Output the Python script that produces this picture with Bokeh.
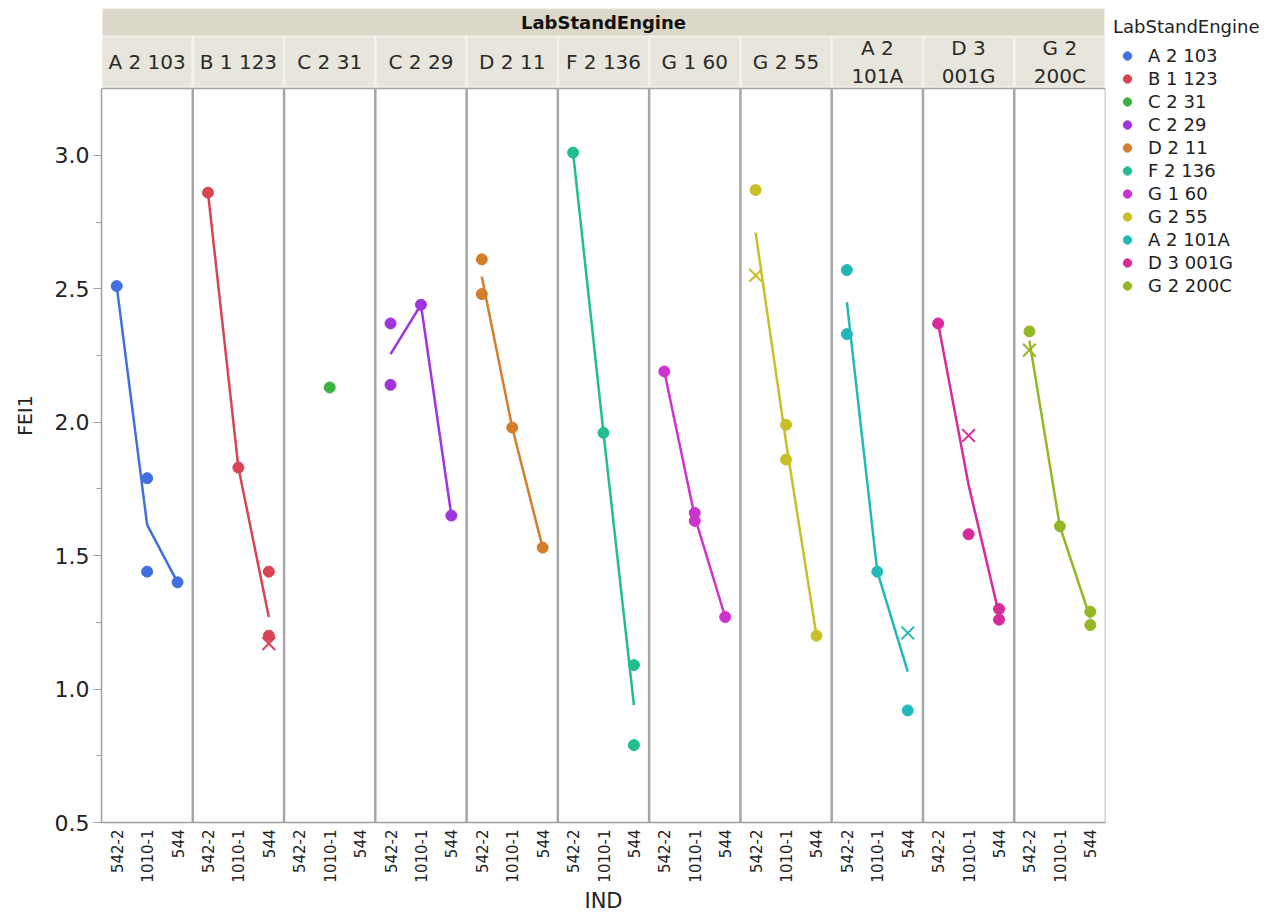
import numpy as np
import pandas as pd
from bokeh.plotting import figure
from bokeh.models import Range1d, FixedTicker, Legend, LegendItem, NumeralTickFormatter
from bokeh.embed import file_html
from bokeh.resources import INLINE
from bokeh.core.properties import value

# ---------------- data ----------------
engines = ["A 2 103", "B 1 123", "C 2 31", "C 2 29", "D 2 11", "F 2 136",
           "G 1 60", "G 2 55", "A 2 101A", "D 3 001G", "G 2 200C"]
ind_levels = ["542-2", "1010-1", "544"]

obs_engine = (["A 2 103"] * 4 + ["B 1 123"] * 5 + ["C 2 31"] * 1 + ["C 2 29"] * 4 +
              ["D 2 11"] * 4 + ["F 2 136"] * 4 + ["G 1 60"] * 4 + ["G 2 55"] * 5 +
              ["A 2 101A"] * 5 + ["D 3 001G"] * 5 + ["G 2 200C"] * 5)
obs_ind = [
    "542-2", "1010-1", "1010-1", "544",                 # A 2 103
    "542-2", "1010-1", "544", "544", "544",             # B 1 123
    "1010-1",                                           # C 2 31
    "542-2", "542-2", "1010-1", "544",                  # C 2 29
    "542-2", "542-2", "1010-1", "544",                  # D 2 11
    "542-2", "1010-1", "544", "544",                    # F 2 136
    "542-2", "1010-1", "1010-1", "544",                 # G 1 60
    "542-2", "542-2", "1010-1", "1010-1", "544",        # G 2 55
    "542-2", "542-2", "1010-1", "544", "544",           # A 2 101A
    "542-2", "1010-1", "1010-1", "544", "544",          # D 3 001G
    "542-2", "542-2", "1010-1", "544", "544",           # G 2 200C
]
obs_fei = [
    2.51, 1.79, 1.44, 1.40,
    2.86, 1.83, 1.44, 1.20, 1.17,
    2.13,
    2.37, 2.14, 2.44, 1.65,
    2.61, 2.48, 1.98, 1.53,
    3.01, 1.96, 1.09, 0.79,
    2.19, 1.66, 1.63, 1.27,
    2.87, 2.55, 1.99, 1.86, 1.20,
    2.57, 2.33, 1.44, 1.21, 0.92,
    2.37, 1.95, 1.58, 1.30, 1.26,
    2.34, 2.27, 1.61, 1.29, 1.24,
]
# rows drawn with an "x" marker
obs_xmark = [
    0, 0, 0, 0,
    0, 0, 0, 0, 1,
    0,
    0, 0, 0, 0,
    0, 0, 0, 0,
    0, 0, 0, 0,
    0, 0, 0, 0,
    0, 1, 0, 0, 0,
    0, 0, 0, 1, 0,
    0, 1, 0, 0, 0,
    0, 1, 0, 0, 0,
]

y_ticks = [0.5, 1.0, 1.5, 2.0, 2.5, 3.0]
y_minor = [0.75, 1.25, 1.75, 2.25, 2.75]

colors = ["#4170DE", "#D94452", "#3CB042", "#A034DD", "#D47D2A", "#22BD90",
          "#CE33CF", "#C9BF26", "#22B8B8", "#D72A9B", "#93B825"]

# ---------------- layout constants ----------------
FONT = "DejaVu Sans"
n = len(engines)
k = len(ind_levels)
Y_LO, Y_TOP_PLOT, Y_HDR = 0.5, 3.25, 3.55
HDR_TITLE_BOT = 3.4486
CELL_TOP, CELL_BOT = 3.441, 3.2575
GAP = 0.045

df = pd.DataFrame(dict(engine=obs_engine, ind=obs_ind, fei=obs_fei, xm=obs_xmark))
eidx = {e: i for i, e in enumerate(engines)}
lidx = {l: j for j, l in enumerate(ind_levels)}
df["ei"] = df["engine"].map(eidx)
df["li"] = df["ind"].map(lidx)
df["x"] = df["ei"] * k + df["li"]

p = figure(frame_width=1004, frame_height=814,
           x_range=Range1d(-0.5, k * n - 0.5), y_range=Range1d(Y_LO, Y_HDR),
           output_backend="svg", toolbar_location=None, title=None,
           min_border_left=101, min_border_top=8, min_border_right=5, min_border_bottom=0)
p.outline_line_color = None
p.xgrid.visible = False
p.ygrid.visible = False
p.background_fill_color = "white"

# ---------------- header ----------------
p.quad(left=[-0.5], right=[k * n - 0.5], bottom=[Y_TOP_PLOT], top=[Y_HDR],
       fill_color="#F2F1EC", line_color=None)
p.quad(left=[-0.5 + GAP], right=[k * n - 0.5 - GAP], bottom=[HDR_TITLE_BOT], top=[Y_HDR],
       fill_color="#DBD8CA", line_color=None)
cell_l = [i * k - 0.5 + GAP for i in range(n)]
cell_r = [i * k + k - 0.5 - GAP for i in range(n)]
p.quad(left=cell_l, right=cell_r, bottom=CELL_BOT, top=CELL_TOP,
       fill_color="#E8E6DC", line_color=None)

def wrap(s):
    if len(s) > 7:
        a, b = s.rsplit(" ", 1)
        return a + "\n" + b
    return s

p.text(x=[(k * n - 1) / 2], y=[(HDR_TITLE_BOT + Y_HDR) / 2], text=["LabStandEngine"],
       text_align="center", text_baseline="middle", text_font=value(FONT),
       text_font_size="18px", text_font_style="bold", text_color="#111111")
p.text(x=[i * k + (k - 1) / 2 for i in range(n)], y=[(CELL_TOP + CELL_BOT) / 2] * n,
       text=[wrap(e) for e in engines], text_align="center", text_baseline="middle",
       text_font=value(FONT), text_font_size="20px", text_color="#2a2a2a",
       text_line_height=1.2)

# ---------------- frame lines ----------------
sep_x = [i * k - 0.5 for i in range(1, n)]
p.segment(x0=sep_x, y0=Y_LO, x1=sep_x, y1=Y_TOP_PLOT, line_color="#A6A6A6", line_width=2.5)
p.segment(x0=[-0.5], y0=[Y_TOP_PLOT], x1=[k * n - 0.5], y1=[Y_TOP_PLOT],
          line_color="#A6A6A6", line_width=1.5)
p.segment(x0=[k * n - 0.5], y0=[Y_LO], x1=[k * n - 0.5], y1=[Y_TOP_PLOT],
          line_color="#A6A6A6", line_width=1.5)

# ---------------- data marks ----------------
items = []
for e, c in zip(engines, colors):
    d = df[df["engine"] == e]
    means = d.groupby("x")["fei"].mean().sort_index()
    if len(means) > 1:
        p.line(means.index.values, means.values, line_color=c, line_width=2.5)
for e, c in zip(engines, colors):
    d = df[df["engine"] == e]
    dp = d[d["xm"] == 0]
    r = p.scatter(dp["x"].values, dp["fei"].values, marker="circle", size=11,
                  fill_color=c, line_color=c)
    dx = d[d["xm"] == 1]
    if len(dx):
        p.scatter(dx["x"].values, dx["fei"].values, marker="x", size=18,
                  line_color=c, line_width=2)
    items.append(LegendItem(label=e, renderers=[r]))

legend = Legend(items=items, title="LabStandEngine", location="top_left",
                margin=8, padding=5, spacing=2, glyph_width=28, glyph_height=21,
                label_height=21, label_standoff=7, title_standoff=8,
                border_line_color=None, background_fill_alpha=0)
legend.label_text_font = FONT
legend.label_text_font_size = "18px"
legend.label_text_color = "#222222"
legend.title_text_font = FONT
legend.title_text_font_size = "18px"
legend.title_text_font_style = "normal"
legend.title_text_color = "#222222"
p.add_layout(legend, "right")

# ---------------- axes ----------------
ax = p.yaxis[0]
ax.ticker = FixedTicker(ticks=y_ticks, minor_ticks=y_minor)
ax.formatter = NumeralTickFormatter(format="0.0")
ax.bounds = (Y_LO, Y_TOP_PLOT)
ax.axis_line_color = "#A0A0A0"
ax.axis_line_width = 1.5
ax.major_tick_line_color = "#A0A0A0"
ax.minor_tick_line_color = "#A0A0A0"
ax.major_tick_out = 8
ax.major_tick_in = 0
ax.minor_tick_out = 5
ax.minor_tick_in = 0
ax.major_label_standoff = 4
ax.major_label_text_font = FONT
ax.major_label_text_font_size = "22px"
ax.major_label_text_color = "#222222"
ax.axis_label = "FEI1"
ax.axis_label_text_font = FONT
ax.axis_label_text_font_size = "19px"
ax.axis_label_text_font_style = "normal"
ax.axis_label_text_color = "#222222"
ax.axis_label_standoff = 16

bx = p.xaxis[0]
bx.ticker = FixedTicker(ticks=list(range(k * n)), minor_ticks=[])
bx.major_label_overrides = {t: ind_levels[t % k] for t in range(k * n)}
bx.major_label_orientation = np.pi / 2
bx.axis_line_color = "#A0A0A0"
bx.axis_line_width = 1.5
bx.major_tick_line_color = None
bx.minor_tick_line_color = None
bx.major_tick_out = 0
bx.major_label_standoff = 7
bx.major_label_text_font = FONT
bx.major_label_text_font_size = "15px"
bx.major_label_text_color = "#222222"
bx.axis_label = "IND"
bx.axis_label_text_font = FONT
bx.axis_label_text_font_size = "21px"
bx.axis_label_text_font_style = "normal"
bx.axis_label_text_color = "#222222"
bx.axis_label_standoff = 3

open("out.html", "w").write(file_html(p, INLINE))
